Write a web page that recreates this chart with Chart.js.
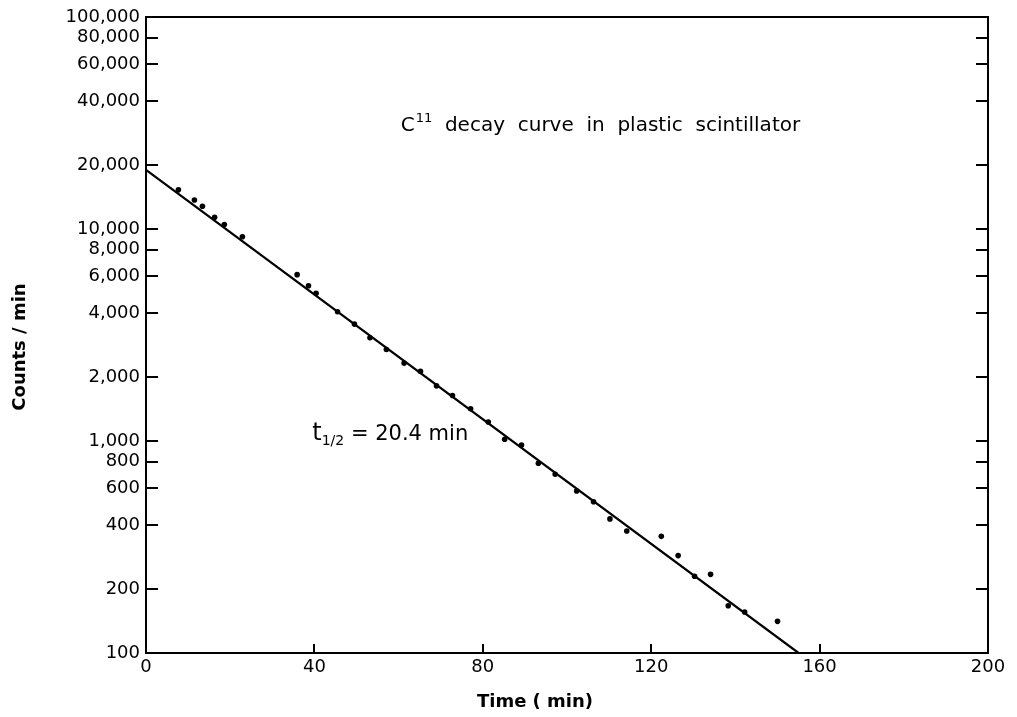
<!DOCTYPE html>
<html><head><meta charset="utf-8">
<script src="https://cdn.jsdelivr.net/npm/chart.js@4.4.1/dist/chart.umd.min.js"></script>
<style>html,body{margin:0;padding:0;background:#fff;}#wrap{width:1017px;height:717px;}</style>
</head><body><div id="wrap"><canvas id="c" width="1017" height="717"></canvas></div>
<script>
// measured points (time in minutes, counts per minute)
const timeMin = [7.7, 11.5, 13.4, 16.3, 18.6, 22.9, 35.9, 38.6, 40.4, 45.5, 49.5, 53.2, 57.1, 61.3, 65.2, 69.0, 72.8, 77.1, 81.3, 85.2, 89.2, 93.2, 97.2, 102.3, 106.3, 110.2, 114.2, 122.4, 126.4, 130.3, 134.1, 138.3, 142.2, 150.0];
const countsPerMin = [15300, 13700, 12800, 11350, 10500, 9200, 6090, 5400, 4980, 4070, 3560, 3070, 2700, 2330, 2130, 1820, 1640, 1420, 1230, 1020, 957, 785, 697, 581, 517, 429, 376, 355, 288, 230, 235, 167, 156, 141];
// fitted decay line
const fitTime = [0, 155];
const fitCounts = [19000, 100];
// axis ticks
const xTickValues = [0, 40, 80, 120, 160, 200];
const yTickValues = [100, 200, 400, 600, 800, 1000, 2000, 4000, 6000, 8000, 10000, 20000, 40000, 60000, 80000, 100000];
// texts
const curveTitleMain = "C";
const curveTitleSup = "11";
const curveTitleRest = "  decay  curve  in  plastic  scintillator";
const halfLifeT = "t";
const halfLifeSub = "1/2";
const halfLifeRest = " = 20.4 min";
const xTitle = "Time ( min)";
const yTitle = "Counts / min";

const FONT = "'DejaVu Sans', sans-serif";

const frame = {
  id: 'frame',
  afterDraw(chart) {
    const ctx = chart.ctx, a = chart.chartArea;
    const xs = chart.scales.x, ys = chart.scales.y;
    ctx.save();
    ctx.strokeStyle = '#000'; ctx.lineWidth = 2;
    ctx.strokeRect(a.left, a.top, a.right - a.left, a.bottom - a.top);
    ctx.beginPath();
    yTickValues.slice(1, -1).forEach(v => {
      const y = Math.round(ys.getPixelForValue(v));
      ctx.moveTo(a.left, y); ctx.lineTo(a.left + 12, y);
      ctx.moveTo(a.right, y); ctx.lineTo(a.right - 12, y);
    });
    xTickValues.slice(1, -1).forEach(v => {
      const x = Math.round(xs.getPixelForValue(v));
      ctx.moveTo(x, a.bottom); ctx.lineTo(x, a.bottom - 9);
    });
    ctx.stroke();

    ctx.fillStyle = '#000';
    ctx.textBaseline = 'alphabetic';
    // curve title
    let x = xs.getPixelForValue(60.5), y = ys.getPixelForValue(28950);
    ctx.font = `20px ${FONT}`; ctx.fillText(curveTitleMain, x, y);
    x += ctx.measureText(curveTitleMain).width + 1;
    ctx.font = `13px ${FONT}`; ctx.fillText(curveTitleSup, x, y - 9);
    x += ctx.measureText(curveTitleSup).width;
    ctx.font = `20px ${FONT}`; ctx.fillText(curveTitleRest, x, y);
    // half-life
    x = xs.getPixelForValue(39.5); y = ys.getPixelForValue(1010);
    ctx.font = `24px ${FONT}`; ctx.fillText(halfLifeT, x, y);
    x += ctx.measureText(halfLifeT).width;
    ctx.font = `14px ${FONT}`; ctx.fillText(halfLifeSub, x, y + 5);
    x += ctx.measureText(halfLifeSub).width;
    ctx.font = `21px ${FONT}`; ctx.fillText(halfLifeRest, x, y);
    // axis titles
    ctx.font = `bold 18px ${FONT}`;
    ctx.textAlign = 'center'; ctx.textBaseline = 'middle';
    ctx.fillText(xTitle, 535, 702);
    ctx.translate(20, 347); ctx.rotate(-Math.PI / 2);
    ctx.fillText(yTitle, 0, 0);
    ctx.restore();
  }
};

new Chart(document.getElementById('c'), {
  type: 'scatter',
  data: {
    datasets: [
      {
        data: timeMin.map((t, i) => ({ x: t, y: countsPerMin[i] })),
        pointRadius: 2.8, pointBackgroundColor: '#000', pointBorderWidth: 0, showLine: false
      },
      {
        data: fitTime.map((t, i) => ({ x: t, y: fitCounts[i] })),
        showLine: true, pointRadius: 0, borderColor: '#000', borderWidth: 2.2
      }
    ]
  },
  options: {
    responsive: false, animation: false,
    layout: { padding: { left: 0, right: 29, top: 17, bottom: 0 } },
    plugins: { legend: { display: false }, tooltip: { enabled: false } },
    scales: {
      x: {
        type: 'linear', min: 0, max: 200,
        grid: { display: false, drawTicks: false }, border: { display: false },
        afterBuildTicks: s => { s.ticks = xTickValues.map(v => ({ value: v })); },
        afterFit: s => { s.height = 64; },
        ticks: { color: '#000', font: { family: FONT, size: 18 }, padding: 4, maxRotation: 0, autoSkip: false }
      },
      y: {
        type: 'logarithmic', min: 100, max: 100000,
        grid: { display: false, drawTicks: false }, border: { display: false },
        afterBuildTicks: s => { s.ticks = yTickValues.map(v => ({ value: v })); },
        afterFit: s => { s.width = 146; },
        ticks: { color: '#000', font: { family: FONT, size: 18 }, padding: 6, autoSkip: false,
          callback: v => Number(v).toLocaleString('en-US') }
      }
    }
  },
  plugins: [frame]
});
</script></body></html>
